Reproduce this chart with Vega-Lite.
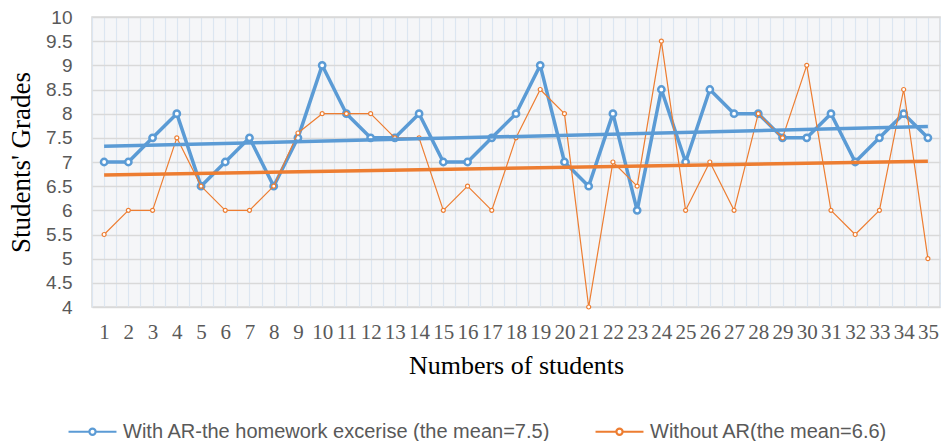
{
  "$schema": "https://vega.github.io/schema/vega-lite/v6.json",
  "width": 848,
  "height": 290,
  "autosize": {"type": "none"},
  "padding": {"left": 92, "top": 17, "right": 1, "bottom": 134},
  "background": "white",
  "config": {
    "view": {"fill": "#f5f6f8", "stroke": "#d9d9d9", "strokeWidth": 1.5}
  },
  "data": {"values": [
    {"student":1,"series":"With AR-the homework excerise (the mean=7.5)","grade":7},
    {"student":2,"series":"With AR-the homework excerise (the mean=7.5)","grade":7},
    {"student":3,"series":"With AR-the homework excerise (the mean=7.5)","grade":7.5},
    {"student":4,"series":"With AR-the homework excerise (the mean=7.5)","grade":8},
    {"student":5,"series":"With AR-the homework excerise (the mean=7.5)","grade":6.5},
    {"student":6,"series":"With AR-the homework excerise (the mean=7.5)","grade":7},
    {"student":7,"series":"With AR-the homework excerise (the mean=7.5)","grade":7.5},
    {"student":8,"series":"With AR-the homework excerise (the mean=7.5)","grade":6.5},
    {"student":9,"series":"With AR-the homework excerise (the mean=7.5)","grade":7.5},
    {"student":10,"series":"With AR-the homework excerise (the mean=7.5)","grade":9},
    {"student":11,"series":"With AR-the homework excerise (the mean=7.5)","grade":8},
    {"student":12,"series":"With AR-the homework excerise (the mean=7.5)","grade":7.5},
    {"student":13,"series":"With AR-the homework excerise (the mean=7.5)","grade":7.5},
    {"student":14,"series":"With AR-the homework excerise (the mean=7.5)","grade":8},
    {"student":15,"series":"With AR-the homework excerise (the mean=7.5)","grade":7},
    {"student":16,"series":"With AR-the homework excerise (the mean=7.5)","grade":7},
    {"student":17,"series":"With AR-the homework excerise (the mean=7.5)","grade":7.5},
    {"student":18,"series":"With AR-the homework excerise (the mean=7.5)","grade":8},
    {"student":19,"series":"With AR-the homework excerise (the mean=7.5)","grade":9},
    {"student":20,"series":"With AR-the homework excerise (the mean=7.5)","grade":7},
    {"student":21,"series":"With AR-the homework excerise (the mean=7.5)","grade":6.5},
    {"student":22,"series":"With AR-the homework excerise (the mean=7.5)","grade":8},
    {"student":23,"series":"With AR-the homework excerise (the mean=7.5)","grade":6},
    {"student":24,"series":"With AR-the homework excerise (the mean=7.5)","grade":8.5},
    {"student":25,"series":"With AR-the homework excerise (the mean=7.5)","grade":7},
    {"student":26,"series":"With AR-the homework excerise (the mean=7.5)","grade":8.5},
    {"student":27,"series":"With AR-the homework excerise (the mean=7.5)","grade":8},
    {"student":28,"series":"With AR-the homework excerise (the mean=7.5)","grade":8},
    {"student":29,"series":"With AR-the homework excerise (the mean=7.5)","grade":7.5},
    {"student":30,"series":"With AR-the homework excerise (the mean=7.5)","grade":7.5},
    {"student":31,"series":"With AR-the homework excerise (the mean=7.5)","grade":8},
    {"student":32,"series":"With AR-the homework excerise (the mean=7.5)","grade":7},
    {"student":33,"series":"With AR-the homework excerise (the mean=7.5)","grade":7.5},
    {"student":34,"series":"With AR-the homework excerise (the mean=7.5)","grade":8},
    {"student":35,"series":"With AR-the homework excerise (the mean=7.5)","grade":7.5},
    {"student":1,"series":"Without AR(the mean=6.6)","grade":5.5},
    {"student":2,"series":"Without AR(the mean=6.6)","grade":6},
    {"student":3,"series":"Without AR(the mean=6.6)","grade":6},
    {"student":4,"series":"Without AR(the mean=6.6)","grade":7.5},
    {"student":5,"series":"Without AR(the mean=6.6)","grade":6.5},
    {"student":6,"series":"Without AR(the mean=6.6)","grade":6},
    {"student":7,"series":"Without AR(the mean=6.6)","grade":6},
    {"student":8,"series":"Without AR(the mean=6.6)","grade":6.5},
    {"student":9,"series":"Without AR(the mean=6.6)","grade":7.6},
    {"student":10,"series":"Without AR(the mean=6.6)","grade":8},
    {"student":11,"series":"Without AR(the mean=6.6)","grade":8},
    {"student":12,"series":"Without AR(the mean=6.6)","grade":8},
    {"student":13,"series":"Without AR(the mean=6.6)","grade":7.5},
    {"student":14,"series":"Without AR(the mean=6.6)","grade":7.5},
    {"student":15,"series":"Without AR(the mean=6.6)","grade":6},
    {"student":16,"series":"Without AR(the mean=6.6)","grade":6.5},
    {"student":17,"series":"Without AR(the mean=6.6)","grade":6},
    {"student":18,"series":"Without AR(the mean=6.6)","grade":7.5},
    {"student":19,"series":"Without AR(the mean=6.6)","grade":8.5},
    {"student":20,"series":"Without AR(the mean=6.6)","grade":8},
    {"student":21,"series":"Without AR(the mean=6.6)","grade":4},
    {"student":22,"series":"Without AR(the mean=6.6)","grade":7},
    {"student":23,"series":"Without AR(the mean=6.6)","grade":6.5},
    {"student":24,"series":"Without AR(the mean=6.6)","grade":9.5},
    {"student":25,"series":"Without AR(the mean=6.6)","grade":6},
    {"student":26,"series":"Without AR(the mean=6.6)","grade":7},
    {"student":27,"series":"Without AR(the mean=6.6)","grade":6},
    {"student":28,"series":"Without AR(the mean=6.6)","grade":8},
    {"student":29,"series":"Without AR(the mean=6.6)","grade":7.5},
    {"student":30,"series":"Without AR(the mean=6.6)","grade":9},
    {"student":31,"series":"Without AR(the mean=6.6)","grade":6},
    {"student":32,"series":"Without AR(the mean=6.6)","grade":5.5},
    {"student":33,"series":"Without AR(the mean=6.6)","grade":6},
    {"student":34,"series":"Without AR(the mean=6.6)","grade":8.5},
    {"student":35,"series":"Without AR(the mean=6.6)","grade":5}
  ]},
  "encoding": {
    "x": {
      "field": "student", "type": "quantitative",
      "scale": {"domain": [0.5, 35.5], "nice": false, "zero": false},
      "axis": {
        "title": "Numbers of students",
        "values": [0.5,1,1.5,2,2.5,3,3.5,4,4.5,5,5.5,6,6.5,7,7.5,8,8.5,9,9.5,10,10.5,11,11.5,12,12.5,13,13.5,14,14.5,15,15.5,16,16.5,17,17.5,18,18.5,19,19.5,20,20.5,21,21.5,22,22.5,23,23.5,24,24.5,25,25.5,26,26.5,27,27.5,28,28.5,29,29.5,30,30.5,31,31.5,32,32.5,33,33.5,34,34.5,35,35.5],
        "labelExpr": "datum.value % 1 === 0 ? datum.value : ''",
        "grid": true, "gridColor": "#dce6f1", "gridWidth": 1.2,
        "ticks": false, "domain": false,
        "labelFont": "Liberation Serif", "labelFontSize": 21, "labelColor": "#595959",
        "labelPadding": 14, "labelFlush": false, "labelOverlap": false,
        "titleFont": "Liberation Serif", "titleFontSize": 26, "titleFontWeight": "normal", "titleColor": "#000000",
        "titlePadding": 10
      }
    },
    "y": {
      "field": "grade", "type": "quantitative",
      "scale": {"domain": [4, 10], "nice": false, "zero": false},
      "axis": {
        "title": "Students' Grades",
        "values": [4,4.5,5,5.5,6,6.5,7,7.5,8,8.5,9,9.5,10],
        "format": ".1~f",
        "grid": true, "gridColor": "#d9d9d9", "gridWidth": 1.6,
        "ticks": false, "domain": false,
        "labelFont": "Liberation Sans", "labelFontSize": 19, "labelColor": "#595959",
        "labelPadding": 20,
        "titleFont": "Liberation Serif", "titleFontSize": 27, "titleFontWeight": "normal", "titleColor": "#000000",
        "titlePadding": 10
      }
    },
    "color": {
      "field": "series", "type": "nominal",
      "scale": {"domain": ["With AR-the homework excerise (the mean=7.5)", "Without AR(the mean=6.6)"], "range": ["#5b9bd5", "#ed7d31"]},
      "legend": {
        "title": null, "orient": "none", "direction": "horizontal",
        "legendX": -25, "legendY": 389,
        "labelFont": "Liberation Sans", "labelFontSize": 20, "labelColor": "#595959",
        "labelLimit": 1000,
        "labelOffset": 5, "columnPadding": 40,
        "symbolType": "M-1,0L-0.13,0M0.13,0L1,0M-0.13,0A0.13,0.13,0,1,1,0.13,0A0.13,0.13,0,1,1,-0.13,0",
        "symbolSize": 2300,
        "symbolFillColor": "white",
        "symbolStrokeWidth": 2.2
      }
    }
  },
  "layer": [
    {
      "transform": [{"filter": "datum.series === 'With AR-the homework excerise (the mean=7.5)'"}],
      "mark": {"type": "line", "strokeJoin": "round", "strokeWidth": 3.5}
    },
    {
      "transform": [{"filter": "datum.series === 'With AR-the homework excerise (the mean=7.5)'"}],
      "mark": {"type": "point", "shape": "circle", "filled": false, "fill": "white", "opacity": 1, "size": 40, "strokeWidth": 2.5}
    },
    {
      "transform": [{"filter": "datum.series === 'Without AR(the mean=6.6)'"}],
      "mark": {"type": "line", "strokeJoin": "round", "strokeWidth": 1.2}
    },
    {
      "transform": [{"filter": "datum.series === 'Without AR(the mean=6.6)'"}],
      "mark": {"type": "point", "shape": "circle", "filled": false, "fill": "white", "opacity": 1, "size": 16, "strokeWidth": 1.2}
    },
    {
      "transform": [{"regression": "grade", "on": "student", "groupby": ["series"], "extent": [1, 35]}],
      "mark": {"type": "line", "strokeWidth": 3.5},
      "encoding": {}
    }
  ]
}
